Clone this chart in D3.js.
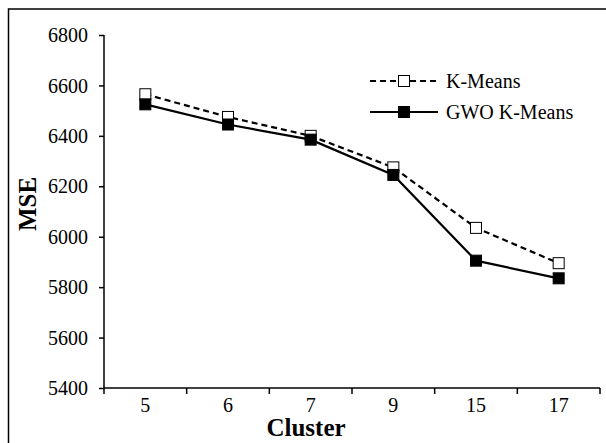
<!DOCTYPE html>
<html>
<head>
<meta charset="utf-8">
<script src="https://cdn.jsdelivr.net/npm/d3@7/dist/d3.min.js"></script>
<style>
  body { margin: 0; background: #fff; }
  svg { display: block; font-family: "Liberation Serif", "Times New Roman", serif; }
</style>
</head>
<body>
<div id="chart"></div>
<script>
// data
var clusters = ["5", "6", "7", "9", "15", "17"]
var kmeans = [6565, 6475, 6400, 6275, 6035, 5895]
var gwoKmeans = [6525, 6445, 6385, 6245, 5905, 5835]
var yTicks = [5400, 5600, 5800, 6000, 6200, 6400, 6600, 6800]

var series = [
    { name: "K-Means", values: kmeans, dash: "6,4", fill: "#fff" },
    { name: "GWO K-Means", values: gwoKmeans, dash: null, fill: "#000" }
]

var width = 606, height = 443
var plotLeft = 104, plotRight = 600, plotTop = 35, plotBottom = 388

var svg = d3.select("#chart")
    .append("svg")
    .attr("width", width)
    .attr("height", height)

// outer frame (runs off the right and bottom edge in the picture)
svg.append("rect")
    .attr("x", 8.5).attr("y", 9)
    .attr("width", 640).attr("height", 480)
    .attr("fill", "none")
    .attr("stroke", "#000")
    .attr("stroke-width", 1.5)

var x = d3.scaleBand().domain(clusters).range([plotLeft, plotRight])
var y = d3.scaleLinear().domain([5400, 6800]).range([plotBottom, plotTop])

// y axis
var yAxis = svg.append("g")
    .attr("transform", "translate(" + plotLeft + ",0)")
    .call(d3.axisLeft(y).tickValues(yTicks).tickSize(5).tickPadding(11).tickFormat(d3.format("d")))
yAxis.select(".domain").attr("stroke-width", 1.5).attr("d", "M0," + plotTop + "V" + plotBottom)
yAxis.selectAll(".tick line").attr("stroke-width", 1.5)
yAxis.selectAll("text")
    .attr("font-size", "20px")
    .attr("font-family", "Liberation Serif")
    .attr("fill", "#000")
    .attr("dy", "0.33em")

// x axis: labels centred in bands, ticks on band edges
var xAxis = svg.append("g")
    .attr("transform", "translate(0," + plotBottom + ")")
    .call(d3.axisBottom(x).tickSize(0).tickPadding(10))
xAxis.select(".domain").attr("stroke-width", 1.5).attr("d", "M" + plotLeft + ",0H" + plotRight)
xAxis.selectAll("text")
    .attr("font-size", "20px")
    .attr("font-family", "Liberation Serif")
    .attr("fill", "#000")

var edges = clusters.map((c) => x(c)).concat([x(clusters[clusters.length - 1]) + x.bandwidth()])
xAxis.selectAll(".edge")
    .data(edges)
    .enter()
    .append("line")
    .attr("class", "edge")
    .attr("x1", (d) => d).attr("x2", (d) => d)
    .attr("y1", 0).attr("y2", 6)
    .attr("stroke", "#000")
    .attr("stroke-width", 1.5)

// axis titles
svg.append("text")
    .attr("x", 306).attr("y", 436)
    .attr("text-anchor", "middle")
    .attr("font-size", "25px")
    .attr("font-weight", "bold")
    .text("Cluster")

svg.append("text")
    .attr("transform", "translate(36,204) rotate(-90)")
    .attr("text-anchor", "middle")
    .attr("font-size", "25px")
    .attr("font-weight", "bold")
    .text("MSE")

// lines
var line = d3.line()
    .x((d, i) => x(clusters[i]) + x.bandwidth() / 2)
    .y((d) => y(d))

var groups = svg.selectAll(".series")
    .data(series)
    .enter()
    .append("g")
    .attr("class", "series")

groups.append("path")
    .attr("d", (s) => line(s.values))
    .attr("fill", "none")
    .attr("stroke", "#000")
    .attr("stroke-width", 2.2)
    .attr("stroke-dasharray", (s) => s.dash)

var ms = 11
groups.each(function(s) {
    d3.select(this).selectAll("rect")
        .data(s.values)
        .enter()
        .append("rect")
        .attr("x", (d, i) => x(clusters[i]) + x.bandwidth() / 2 - ms / 2)
        .attr("y", (d) => y(d) - ms / 2)
        .attr("width", ms).attr("height", ms)
        .attr("fill", s.fill)
        .attr("stroke", "#000")
        .attr("stroke-width", 1)
})

// legend
var legend = svg.selectAll(".legend")
    .data(series)
    .enter()
    .append("g")
    .attr("class", "legend")
    .attr("transform", (s, i) => "translate(370," + (81 + i * 31) + ")")

legend.append("line")
    .attr("x1", 0).attr("x2", 68)
    .attr("stroke", "#000")
    .attr("stroke-width", 2.2)
    .attr("stroke-dasharray", (s) => s.dash)

legend.append("rect")
    .attr("x", 34 - ms / 2).attr("y", -ms / 2)
    .attr("width", ms).attr("height", ms)
    .attr("fill", (s) => s.fill)
    .attr("stroke", "#000")

legend.append("text")
    .attr("x", 76).attr("y", 0)
    .attr("dy", "0.33em")
    .attr("font-size", "20px")
    .text((s) => s.name)
</script>
</body>
</html>
